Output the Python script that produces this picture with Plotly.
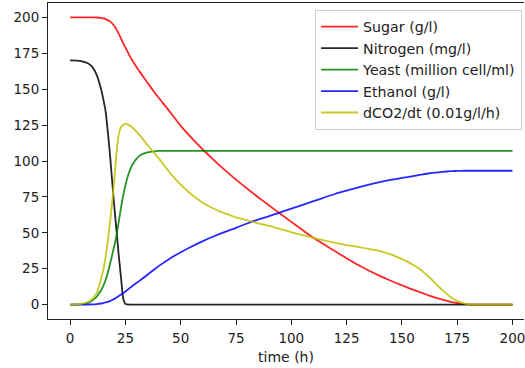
import plotly.graph_objects as go

# Fermentation simulation output sampled on a common time grid (hours)
time_h = [0, 5, 8, 10, 12, 14, 15, 16, 17, 18, 19, 20, 21, 22, 23, 24, 25, 26, 27, 28,
          30, 32, 35, 38, 40, 45, 50, 55, 60, 65, 70, 75, 80, 85, 90, 95, 100, 110, 120,
          125, 130, 140, 145, 150, 155, 158, 160, 162, 164, 166, 168, 170, 172, 174, 176,
          178, 180, 185, 190, 200]

sugar = [200, 200, 200, 200, 199.9, 199.6, 199.3, 198.8, 198.1, 197.2, 195.8, 194, 191.5,
         188.5, 185.3, 182, 179, 176, 173, 170.3, 165.5, 161, 154.5, 148, 144, 134.5, 124.5,
         116, 108, 100.6, 93.6, 87, 80.8, 74.8, 69, 63.3, 57.6, 46.5, 37, 32.3, 27.8,
         20, 16.6, 13.5, 10.4, 8.7, 7.6, 6.5, 5.4, 4.5, 3.6, 2.8, 2.0, 1.4, 0.9, 0.5, 0.25,
         0.05, 0, 0]

nitrogen = [170, 169.6, 168, 165.5, 160, 150, 143, 135, 121, 105, 86, 68, 51, 34, 19, 4.5,
            0.5, 0.1, 0, 0, 0, 0, 0, 0, 0, 0, 0, 0, 0, 0, 0, 0, 0, 0, 0, 0, 0, 0, 0, 0, 0,
            0, 0, 0, 0, 0, 0, 0, 0, 0, 0, 0, 0, 0, 0, 0, 0, 0, 0, 0]

yeast = [0, 0.3, 1.2, 2.8, 5.5, 10, 13, 17, 22, 28, 34.5, 41, 48.5, 58, 67.5, 76, 83, 89,
         93.5, 97, 101.5, 104.3, 106, 106.7, 107, 107, 107, 107, 107, 107, 107, 107, 107,
         107, 107, 107, 107, 107, 107, 107, 107, 107, 107, 107, 107, 107, 107, 107, 107,
         107, 107, 107, 107, 107, 107, 107, 107, 107, 107, 107]

ethanol = [0, 0, 0.1, 0.2, 0.4, 0.8, 1.1, 1.5, 1.9, 2.5, 3.2, 4, 5, 6, 7, 8, 9.2, 10.4,
           11.6, 12.8, 15, 17.3, 20.8, 24.5, 26.8, 32, 36.5, 40.5, 44.2, 47.6, 50.7, 53.5,
           56.5, 59.2, 61.6, 64.3, 66.8, 72, 77.2, 79.4, 81.5, 85.3, 86.9, 88.2, 89.5, 90.3,
           90.8, 91.3, 91.7, 92.1, 92.4, 92.7, 92.9, 93.05, 93.15, 93.2, 93.2, 93.2, 93.2, 93.2]

dco2_dt = [0, 0.5, 1.8, 4, 8, 18, 24, 33, 44, 57, 71, 87, 106, 118.5, 123.5, 125.3, 125.8,
           125.5, 124.7, 123.5, 120.5, 117, 111, 105.6, 102, 92, 83.5, 76.5, 71, 66.8, 63.5,
           60.8, 58.8, 56.6, 54.8, 52.6, 50.5, 46.5, 43, 41.5, 40.2, 37.3, 35, 31.7, 27.8,
           24.8, 22.3, 19.6, 16.6, 13.5, 10.5, 7.8, 5.3, 3.4, 1.9, 0.9, 0.4, 0.05, 0, 0]

series_names = ["Sugar (g/l)", "Nitrogen (mg/l)", "Yeast (million cell/ml)",
                "Ethanol (g/l)", "dCO2/dt (0.01g/l/h)"]
series_values = [sugar, nitrogen, yeast, ethanol, dco2_dt]
series_colors = ["rgba(255,0,0,0.85)", "rgba(0,0,0,0.85)", "rgba(0,128,0,0.85)",
                 "rgba(0,0,255,0.85)", "rgba(191,191,0,0.85)"]

x_ticks = [0, 25, 50, 75, 100, 125, 150, 175, 200]
y_ticks = [0, 25, 50, 75, 100, 125, 150, 175, 200]

font_family = "DejaVu Sans"

fig = go.Figure()
for i, (name, vals, col) in enumerate(zip(series_names, series_values, series_colors)):
    fig.add_trace(go.Scatter(
        x=time_h, y=vals, name=name, mode="lines",
        line=dict(color=col, width=1.8, shape="spline", smoothing=0.7),
        legendgroup=f"g{i}",
    ))

axis_common = dict(
    showgrid=False, zeroline=False, showline=True, linecolor="#222222", linewidth=1,
    ticks="outside", ticklen=5, tickwidth=1, tickcolor="#222222",
    tickfont=dict(family=font_family, size=13.5, color="#222222"),
    ticklabeloverflow="allow",
)

fig.update_layout(
    width=525, height=368,
    margin=dict(l=48, r=1, t=3, b=49),
    paper_bgcolor="white", plot_bgcolor="white",
    font=dict(family=font_family, size=13.5, color="#222222"),
    xaxis=dict(range=[-10, 205.2], tickvals=x_ticks, mirror=True,
               ticklabelstandoff=2,
               title=dict(text="time (h)", font=dict(family=font_family, size=14),
                          standoff=6),
               **axis_common),
    yaxis=dict(range=[-10, 210], tickvals=y_ticks, **axis_common),
    legend=dict(
        x=0.996, y=0.978, xanchor="right", yanchor="top",
        bgcolor="rgba(255,255,255,0.8)", bordercolor="#cccccc", borderwidth=1,
        font=dict(family=font_family, size=14.2, color="#222222"),
        tracegroupgap=0, itemwidth=37,
    ),
    showlegend=True,
)

fig.write_html("out.html")
